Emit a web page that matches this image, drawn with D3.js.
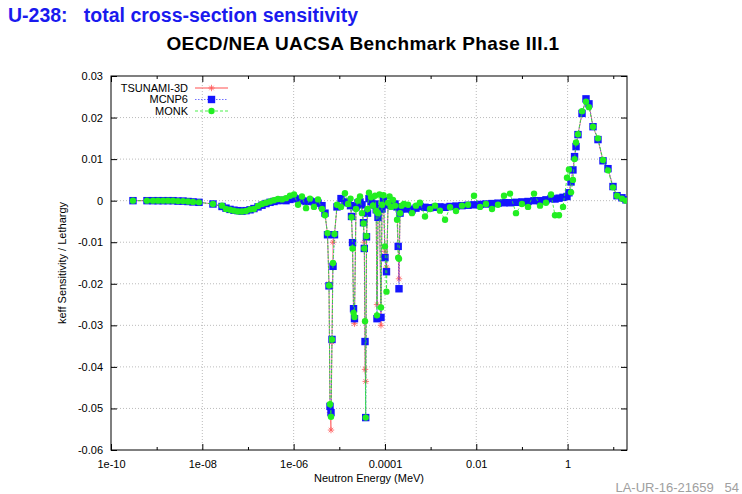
<!DOCTYPE html>
<html>
<head>
<meta charset="utf-8">
<script src="https://cdn.jsdelivr.net/npm/d3@7"></script>
<style>
  body { margin: 0; background: #fff; }
  svg text { font-family: "Liberation Sans", Arial, Helvetica, sans-serif; }
</style>
</head>
<body>
<svg id="chart" width="742" height="494"></svg>
<script>
// group energies (MeV)
const energy = [
  3.03e-10, 6.14e-10, 8.31e-10, 1.07e-9, 1.38e-9, 1.77e-9, 2.28e-9, 2.93e-9, 3.78e-9, 4.86e-9, 6.25e-9, 8.46e-9,
  1.71e-8, 2.70e-8, 3.30e-8, 4.04e-8, 4.94e-8, 6.04e-8, 7.39e-8, 9.05e-8, 1.11e-7, 1.35e-7, 1.66e-7, 2.03e-7,
  2.48e-7, 3.04e-7, 3.71e-7, 4.54e-7, 5.56e-7, 6.80e-7, 8.32e-7, 1.02e-6, 1.25e-6, 1.52e-6, 1.87e-6, 2.28e-6,
  2.79e-6, 3.42e-6, 4.18e-6, 4.86e-6, 5.52e-6, 5.95e-6, 6.26e-6, 6.58e-6, 6.92e-6, 7.28e-6, 7.85e-6, 8.90e-6,
  1.09e-5, 1.33e-5, 1.55e-5, 1.76e-5, 1.85e-5, 1.95e-5, 2.05e-5, 2.15e-5, 2.32e-5, 2.57e-5, 2.84e-5, 3.14e-5,
  3.39e-5, 3.53e-5, 3.66e-5, 3.79e-5, 3.94e-5, 4.15e-5, 4.47e-5, 4.95e-5, 5.47e-5, 6.05e-5, 6.43e-5, 6.69e-5,
  7.04e-5, 7.59e-5, 8.19e-5, 8.61e-5, 9.29e-5, 1.00e-4, 1.08e-4, 1.17e-4, 1.26e-4, 1.36e-4, 1.50e-4, 1.66e-4,
  1.84e-4, 1.95e-4, 2.03e-4, 2.14e-4, 2.30e-4, 2.61e-4, 3.20e-4, 3.91e-4, 4.78e-4, 5.85e-4, 7.53e-4, 9.69e-4,
  1.25e-3, 1.60e-3, 2.07e-3, 2.66e-3, 3.60e-3, 4.87e-3, 6.59e-3, 8.92e-3, 1.21e-2, 1.63e-2, 2.21e-2, 2.99e-2,
  4.05e-2, 5.48e-2, 7.41e-2, 0.100, 0.136, 0.184, 0.249, 0.336, 0.433, 0.530, 0.648, 0.793,
  0.970, 1.07, 1.19, 1.31, 1.42, 1.53, 1.69, 2.07, 2.53, 2.94, 3.60, 4.63,
  5.96, 7.67, 9.87, 12.1, 15.5, 19.0
];

const tsunami = [
  0, 0, 0, 0, 0, 0, 0, -0.0001, -0.0001, -0.0002, -0.0003, -0.0004,
  -0.0008, -0.0014, -0.0018, -0.0021, -0.0023, -0.0024, -0.0025, -0.0024, -0.0022, -0.0019, -0.0015, -0.0011,
  -0.0007, -0.0004, -0.0002, 0.0000, 0.0001, 0.0000, 0.0003, 0.0006, 0.0004, 0.0000, -0.0002, -0.0001,
  -0.0003, -0.0006, -0.0012, -0.0030, -0.0082, -0.0200, -0.0510, -0.0552, -0.0340, -0.0100, -0.0082, -0.0015,
  0.0005, -0.0003, -0.0005, -0.0012, -0.0038, -0.0101, -0.0265, -0.0296, -0.0015, -0.0005, -0.0003, -0.0010,
  -0.0053, -0.0100, -0.0406, -0.0435, -0.0090, -0.0030, 0.0005, -0.0002, -0.0010, -0.0008, -0.0022, -0.0250,
  -0.0040, -0.0020, -0.0300, -0.0020, 0.0000, -0.0122, -0.0160, -0.0010, -0.0008, -0.0012, -0.0010, -0.0008,
  -0.0015, -0.0110, -0.0188, -0.0030, -0.0020, -0.0018, -0.0020, -0.0022, -0.0018, -0.0014, -0.0016, -0.0017,
  -0.0016, -0.0015, -0.0016, -0.0014, -0.0013, -0.0012, -0.0011, -0.0010, -0.0009, -0.0008, -0.0007, -0.0006,
  -0.0005, -0.0005, -0.0004, -0.0003, -0.0002, 0.0000, 0.0000, 0.0002, 0.0005, 0.0004, 0.0006, 0.0008,
  0.0010, 0.0019, 0.0045, 0.0074, 0.0106, 0.0130, 0.0159, 0.0210, 0.0245, 0.0233, 0.0178, 0.0147,
  0.0096, 0.0077, 0.0034, 0.0012, 0.0007, 0.0002
];

const mcnp = [
  0, 0, 0, 0, 0, 0, 0, -0.0001, -0.0001, -0.0002, -0.0003, -0.0004,
  -0.0008, -0.0014, -0.0018, -0.0021, -0.0023, -0.0024, -0.0025, -0.0024, -0.0022, -0.0019, -0.0015, -0.0011,
  -0.0007, -0.0004, -0.0002, 0.0000, 0.0001, 0.0000, 0.0003, 0.0006, 0.0004, 0.0000, -0.0002, -0.0001,
  -0.0003, -0.0006, -0.0012, -0.0030, -0.0082, -0.0205, -0.0495, -0.0510, -0.0334, -0.0158, -0.0082, -0.0015,
  0.0005, -0.0003, -0.0005, -0.0012, -0.0038, -0.0101, -0.0260, -0.0284, -0.0015, -0.0005, -0.0003, -0.0010,
  -0.0053, -0.0115, -0.0339, -0.0522, -0.0087, -0.0030, 0.0005, -0.0002, -0.0010, -0.0008, -0.0022, -0.0284,
  -0.0040, -0.0020, -0.0281, -0.0020, 0.0000, -0.0137, -0.0171, -0.0010, -0.0008, -0.0012, -0.0010, -0.0008,
  -0.0015, -0.0110, -0.0212, -0.0030, -0.0020, -0.0018, -0.0020, -0.0022, -0.0018, -0.0014, -0.0016, -0.0017,
  -0.0016, -0.0015, -0.0016, -0.0014, -0.0013, -0.0012, -0.0011, -0.0010, -0.0009, -0.0008, -0.0007, -0.0006,
  -0.0005, -0.0005, -0.0004, -0.0003, -0.0002, 0.0000, 0.0000, 0.0002, 0.0005, 0.0004, 0.0006, 0.0008,
  0.0010, 0.0019, 0.0045, 0.0074, 0.0106, 0.0130, 0.0159, 0.0210, 0.0245, 0.0233, 0.0178, 0.0147,
  0.0096, 0.0077, 0.0034, 0.0012, 0.0007, 0.0002
];

const monk = [
  0, 0, 0, 0, 0, 0, 0, -0.0001, -0.0001, -0.0002, -0.0003, -0.0004,
  -0.0008, -0.0012, -0.0020, -0.0022, -0.0024, -0.0026, -0.0026, -0.0025, -0.0021, -0.0020, -0.0013, -0.0008,
  -0.0005, -0.0002, 0.0001, 0.0004, 0.0003, 0.0006, 0.0012, 0.0015, -0.0010, 0.0010, -0.0018, 0.0005,
  -0.0015, 0.0003, -0.0020, -0.0035, -0.0078, -0.0204, -0.0490, -0.0520, -0.0334, -0.0150, -0.0080, -0.0010,
  -0.0015, 0.0018, -0.0008, 0.0005, -0.0040, -0.0115, -0.0270, -0.0280, -0.0020, 0.0000, 0.0010, -0.0030,
  -0.0055, -0.0115, -0.0290, -0.0522, -0.0085, -0.0020, 0.0019, 0.0008, -0.0012, 0.0012, -0.0025, -0.0276,
  -0.0030, 0.0015, -0.0257, -0.0010, 0.0013, -0.0110, -0.0219, -0.0005, 0.0010, -0.0015, 0.0002, -0.0012,
  -0.0046, -0.0137, -0.0140, -0.0030, -0.0012, -0.0008, -0.0010, -0.0030, -0.0012, -0.0005, -0.0038, -0.0020,
  -0.0012, -0.0024, -0.0046, -0.0016, -0.0025, -0.0012, -0.0010, 0.0012, -0.0015, -0.0008, -0.0020, -0.0010,
  0.0012, 0.0017, -0.0030, -0.0008, -0.0015, 0.0017, -0.0012, -0.0005, 0.0015, -0.0035, -0.0035, -0.0015,
  0.0055, 0.0075, 0.0020, 0.0050, 0.0100, 0.0140, 0.0160, 0.0215, 0.0238, 0.0225, 0.0178, 0.0150,
  0.0098, 0.0073, 0.0032, 0.0012, 0.0005, 0.0000
];

const seriesNames = ["TSUNAMI-3D", "MCNP6", "MONK"];
const xTicks = [1e-10, 1e-8, 1e-6, 1e-4, 1e-2, 1];
const xTickLabels = ["1e-10", "1e-08", "1e-06", "0.0001", "0.01", "1"];
const xMinorTicks = [1e-9, 1e-7, 1e-5, 1e-3, 1e-1, 10];
const yTicks = [0.03, 0.02, 0.01, 0, -0.01, -0.02, -0.03, -0.04, -0.05, -0.06];
const yTickLabels = ["0.03", "0.02", "0.01", "0", "-0.01", "-0.02", "-0.03", "-0.04", "-0.05", "-0.06"];

const svg = d3.select("#chart");
const margin = { top: 76, right: 115, bottom: 44, left: 111 },
      W = 742, H = 494,
      width = W - margin.left - margin.right,
      height = H - margin.top - margin.bottom;

// Titles
svg.append("text")
  .attr("x", 8).attr("y", 22)
  .style("font-size", "19.5px").style("font-weight", "bold").attr("fill", "#1a1aee")
  .attr("xml:space", "preserve")
  .text("U-238:   total cross-section sensitivity");

svg.append("text")
  .attr("x", 363).attr("y", 50)
  .attr("text-anchor", "middle")
  .style("font-size", "19px").style("font-weight", "bold").style("letter-spacing", "0.4px")
  .attr("fill", "#000")
  .text("OECD/NEA UACSA Benchmark Phase III.1");

svg.append("text")
  .attr("x", 739).attr("y", 492)
  .attr("text-anchor", "end")
  .style("font-size", "13px").attr("fill", "#a0a0a0")
  .attr("xml:space", "preserve")
  .text("LA-UR-16-21659   54");

const g = svg.append("g").attr("transform", `translate(${margin.left},${margin.top})`);

const x = d3.scaleLog().domain([1e-10, 20]).range([0, width]);
const y = d3.scaleLinear().domain([-0.06, 0.03]).range([height, 0]);

// Grid
g.append("g").selectAll("line").data(xTicks.slice(1)).enter().append("line")
  .attr("x1", d => x(d)).attr("x2", d => x(d)).attr("y1", 0).attr("y2", height)
  .attr("stroke", "#aaa").attr("stroke-width", 0.8).attr("stroke-dasharray", "1,2");
g.append("g").selectAll("line").data(yTicks.slice(1, -1)).enter().append("line")
  .attr("y1", d => y(d)).attr("y2", d => y(d)).attr("x1", 0).attr("x2", width)
  .attr("stroke", "#aaa").attr("stroke-width", 0.8).attr("stroke-dasharray", "1,2");

// Axes (gnuplot style: inward ticks, mirrored)
const xAxis = g.append("g").attr("transform", `translate(0,${height})`)
  .call(d3.axisBottom(x).tickValues(xTicks).tickFormat((d, i) => xTickLabels[i]).tickSize(-6).tickPadding(10));
xAxis.select(".domain").remove();
xAxis.selectAll("text").style("font-size", "11px").attr("fill", "#000");

g.append("g").attr("transform", `translate(0,${height})`)
  .call(d3.axisBottom(x).tickValues(xMinorTicks).tickFormat("").tickSize(-3))
  .select(".domain").remove();
g.append("g")
  .call(d3.axisTop(x).tickValues(xTicks).tickFormat("").tickSize(-6))
  .select(".domain").remove();
g.append("g")
  .call(d3.axisTop(x).tickValues(xMinorTicks).tickFormat("").tickSize(-3))
  .select(".domain").remove();

const yAxis = g.append("g")
  .call(d3.axisLeft(y).tickValues(yTicks).tickFormat((d, i) => yTickLabels[i]).tickSize(-6).tickPadding(8));
yAxis.select(".domain").remove();
yAxis.selectAll("text").style("font-size", "11px").attr("fill", "#000");
g.append("g").attr("transform", `translate(${width},0)`)
  .call(d3.axisRight(y).tickValues(yTicks).tickFormat("").tickSize(-6))
  .select(".domain").remove();

g.append("rect").attr("width", width).attr("height", height)
  .attr("fill", "none").attr("stroke", "#000").attr("stroke-width", 1);

// Axis labels
svg.append("text")
  .attr("x", margin.left + width / 2).attr("y", 482)
  .attr("text-anchor", "middle").style("font-size", "11px")
  .text("Neutron Energy (MeV)");
svg.append("text")
  .attr("transform", `translate(66,${margin.top + height / 2}) rotate(-90)`)
  .attr("text-anchor", "middle").style("font-size", "11px")
  .text("keff Sensitivity / Lethargy");

// Data
g.append("clipPath").attr("id", "clip").append("rect").attr("width", width).attr("height", height);
const plot = g.append("g").attr("clip-path", "url(#clip)");

const styles = [
  { values: tsunami, color: "#ff5a5a", dash: null, opacity: 0.7 },
  { values: mcnp, color: "#1414ff", dash: "1.5,1.5", opacity: 0.6 },
  { values: monk, color: "#22ee22", dash: "3,2", opacity: 0.8 }
];

const line = d3.line().x(d => x(d[0])).y(d => y(d[1]));

function starPath(s) {
  const a = s * 0.7;
  return `M${-s},0L${s},0M0,${-s}L0,${s}M${-a},${-a}L${a},${a}M${-a},${a}L${a},${-a}`;
}

function drawMarker(sel, i, color) {
  if (i === 0) {
    sel.append("path").attr("d", starPath(3.2)).attr("fill", "none")
      .attr("stroke", color).attr("stroke-width", 1).attr("opacity", 0.8);
  } else if (i === 1) {
    sel.append("rect").attr("x", -3.7).attr("y", -3.7).attr("width", 7.4).attr("height", 7.4)
      .attr("fill", color);
  } else {
    sel.append("circle").attr("r", 3.2).attr("fill", color);
  }
}

styles.forEach((s, i) => {
  const pts = energy.map((e, k) => [e, s.values[k]]);
  plot.append("path").datum(pts)
    .attr("fill", "none").attr("stroke", s.color).attr("stroke-width", 1)
    .attr("stroke-dasharray", s.dash).attr("opacity", s.opacity)
    .attr("d", line);
  plot.append("g").selectAll("g").data(pts).enter().append("g")
    .attr("transform", d => `translate(${x(d[0])},${y(d[1])})`)
    .each(function() { drawMarker(d3.select(this), i, s.color); });
});

// Legend
const legend = g.append("g");
seriesNames.forEach((name, i) => {
  const ly = 12 + i * 11.5;
  legend.append("text").attr("x", 77).attr("y", ly).attr("dy", "0.35em")
    .attr("text-anchor", "end").style("font-size", "11px").text(name);
  legend.append("line").attr("x1", 84).attr("x2", 117).attr("y1", ly).attr("y2", ly)
    .attr("stroke", styles[i].color).attr("stroke-width", i === 0 ? 1.5 : 1)
    .attr("stroke-dasharray", styles[i].dash).attr("opacity", styles[i].opacity);
  const m = legend.append("g").attr("transform", `translate(100.5,${ly})`);
  drawMarker(m, i, styles[i].color);
});
</script>
</body>
</html>
